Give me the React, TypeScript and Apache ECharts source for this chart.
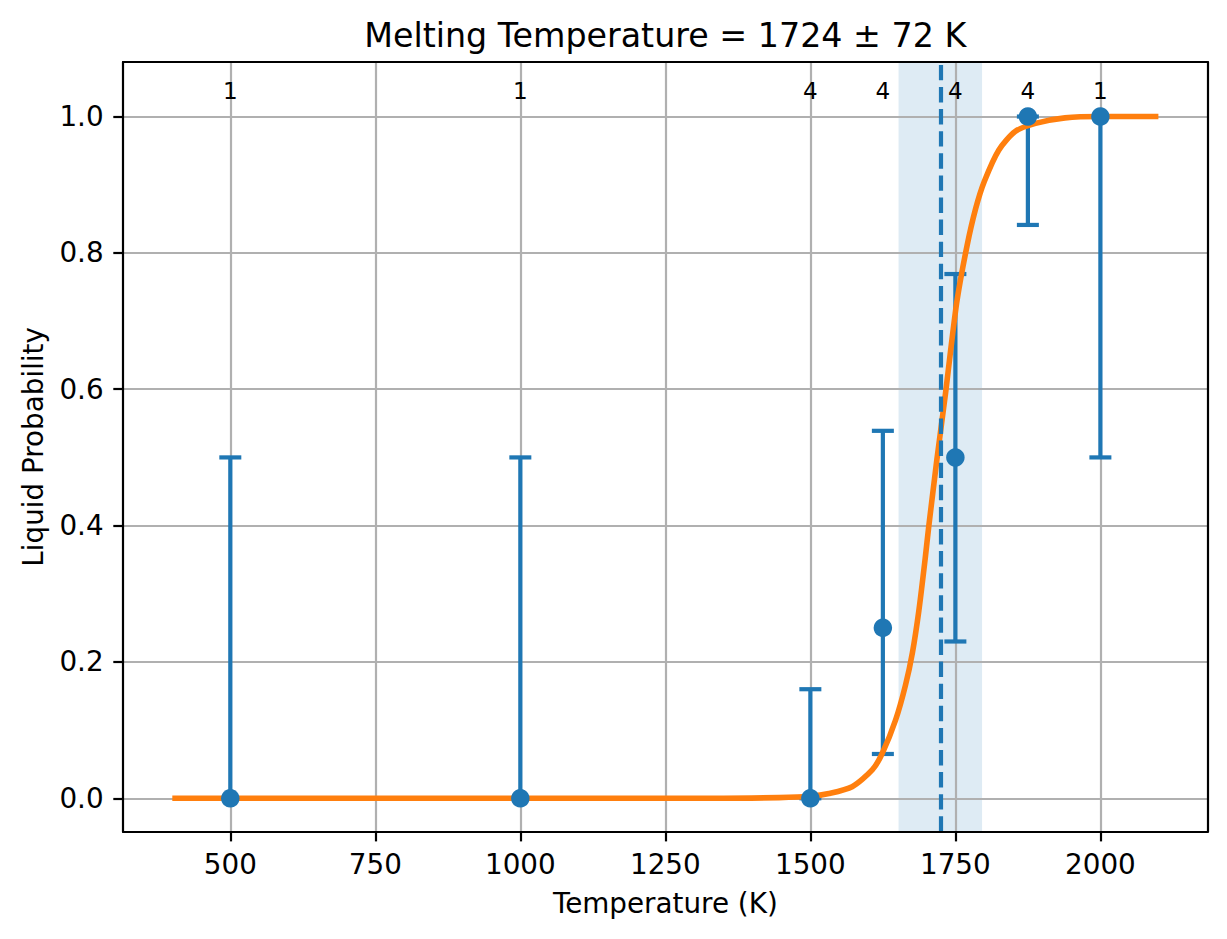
import React, { useEffect, useRef } from "react";
import * as echarts from "echarts";

// ---- data ----
const temps = [500, 1000, 1500, 1625, 1750, 1875, 2000];
const probs = [0, 0, 0, 0.25, 0.5, 1.0, 1.0];
const errLow = [0, 0, 0, 0.065, 0.23, 0.841, 0.5];
const errHigh = [0.5, 0.5, 0.16, 0.539, 0.769, 1.0, 1.0];
const counts = [1, 1, 4, 4, 4, 4, 1];

const curveT = [400, 700, 1000, 1200, 1350, 1446, 1500, 1532, 1572, 1607, 1624, 1647, 1664, 1676, 1687, 1698, 1704, 1718, 1733, 1742, 1753, 1770, 1785, 1800, 1825, 1853, 1888, 1939, 2000, 2050, 2100];
const curveP = [0, 0, 0, 0, 0, 0.001, 0.003, 0.007, 0.017, 0.042, 0.066, 0.115, 0.166, 0.214, 0.275, 0.352, 0.398, 0.496, 0.594, 0.658, 0.731, 0.81, 0.865, 0.905, 0.951, 0.978, 0.99, 0.998, 1.0, 1.0, 1.0];

const meltT = 1724;
const meltErr = 72;

const xTicks = [500, 750, 1000, 1250, 1500, 1750, 2000];
const yTicks = [0, 0.2, 0.4, 0.6, 0.8, 1.0];

const X_MIN = 315;
const X_MAX = 2185;
const Y_MIN = -0.049;
const Y_MAX = 1.08;
const COUNT_LABEL_LEVEL = 1.037;

const FONT = "'DejaVu Sans', sans-serif";
const BLUE = "#1f77b4";
const ORANGE = "#ff7f0e";

export default function App() {
  const ref = useRef<HTMLDivElement>(null);

  useEffect(() => {
    if (!ref.current) return;
    const chart = echarts.init(ref.current, null, { renderer: "svg" });

    const spine = { color: "#000", width: 2.2 };

    const option: any = {
      animation: false,
      backgroundColor: "#ffffff",
      textStyle: { fontFamily: FONT },
      title: {
        text: `Melting Temperature = ${meltT} ± ${meltErr} K`,
        left: 665.3,
        top: 18.5,
        padding: 0,
        textAlign: "center",
        textStyle: { fontFamily: FONT, fontSize: 33.3, fontWeight: "normal", color: "#000" },
      },
      grid: { left: 123, top: 62, right: 19.3, bottom: 107.3, containLabel: false, outerBoundsMode: "none" },
      xAxis: [
        {
          type: "value",
          position: "bottom",
          min: X_MIN,
          max: X_MAX,
          axisLine: { show: true, onZero: false, lineStyle: spine },
          axisTick: { show: true, customValues: xTicks, length: 9.7, lineStyle: spine },
          axisLabel: {
            customValues: xTicks,
            formatter: (v: number) => String(v),
            fontSize: 27.8,
            color: "#000",
            margin: 18.5,
            fontFamily: FONT,
          },
          splitLine: { show: false },
          name: "Temperature (K)",
          nameLocation: "middle",
          nameGap: 58,
          nameTextStyle: { fontSize: 27.8, color: "#000", fontFamily: FONT },
          z: 8,
        },
        {
          type: "value",
          position: "top",
          min: X_MIN,
          max: X_MAX,
          axisLine: { show: true, onZero: false, lineStyle: spine },
          axisTick: { show: false },
          axisLabel: { show: false },
          splitLine: { show: false },
          z: 8,
        },
      ],
      yAxis: [
        {
          type: "value",
          position: "left",
          min: Y_MIN,
          max: Y_MAX,
          axisLine: { show: true, onZero: false, lineStyle: spine },
          axisTick: { show: true, customValues: yTicks, length: 9.7, lineStyle: spine },
          axisLabel: {
            customValues: yTicks,
            formatter: (v: number) => v.toFixed(1),
            fontSize: 27.8,
            color: "#000",
            margin: 19.4,
            fontFamily: FONT,
          },
          splitLine: { show: false },
          name: "Liquid Probability",
          nameLocation: "middle",
          nameGap: 75.4,
          nameTextStyle: { fontSize: 27.8, color: "#000", fontFamily: FONT },
          z: 8,
        },
        {
          type: "value",
          position: "right",
          min: Y_MIN,
          max: Y_MAX,
          axisLine: { show: true, onZero: false, lineStyle: spine },
          axisTick: { show: false },
          axisLabel: { show: false },
          splitLine: { show: false },
          z: 8,
        },
      ],
      series: [
        {
          name: "band",
          type: "line",
          data: [],
          z: 1,
          silent: true,
          markArea: {
            silent: true,
            z: 1,
            itemStyle: { color: "rgba(31,119,180,0.15)" },
            label: { show: false },
            data: [[{ xAxis: meltT - meltErr }, { xAxis: meltT + meltErr }]],
          },
        },
        {
          name: "grid",
          type: "line",
          data: [],
          z: 2,
          silent: true,
          markLine: {
            silent: true,
            z: 2,
            symbol: ["none", "none"],
            label: { show: false },
            lineStyle: { color: "#b0b0b0", width: 2.2, type: "solid" },
            data: [
              ...xTicks.map((v) => ({ xAxis: v })),
              ...yTicks.map((v) => ({ yAxis: v })),
            ],
          },
        },
        {
          name: "errorbars",
          type: "custom",
          z: 3,
          silent: true,
          data: temps.map((t, i) => [t, errLow[i], errHigh[i]]),
          encode: { x: 0, y: [1, 2] },
          renderItem: (params: any, api: any) => {
            const x = api.value(0);
            const lo = api.coord([x, api.value(1)]);
            const hi = api.coord([x, api.value(2)]);
            const style = { stroke: BLUE, lineWidth: 4.2, fill: "none" };
            const cap = 11;
            return {
              type: "group",
              children: [
                { type: "line", shape: { x1: lo[0], y1: lo[1], x2: hi[0], y2: hi[1] }, style },
                { type: "line", shape: { x1: lo[0] - cap, y1: lo[1], x2: lo[0] + cap, y2: lo[1] }, style },
                { type: "line", shape: { x1: hi[0] - cap, y1: hi[1], x2: hi[0] + cap, y2: hi[1] }, style },
              ],
            };
          },
        },
        {
          name: "fit",
          type: "line",
          z: 4,
          silent: true,
          showSymbol: false,
          symbol: "none",
          smooth: 0.25,
          data: curveT.map((t, i) => [t, curveP[i]]),
          lineStyle: { color: ORANGE, width: 5.6, cap: "butt", join: "round" },
        },
        {
          name: "melt",
          type: "line",
          data: [],
          z: 5,
          silent: true,
          markLine: {
            silent: true,
            z: 5,
            symbol: ["none", "none"],
            label: { show: false },
            lineStyle: { color: BLUE, width: 4.2, type: [15.4, 6.7] },
            data: [{ xAxis: meltT }],
          },
        },
        {
          name: "points",
          type: "scatter",
          z: 6,
          silent: true,
          symbol: "circle",
          symbolSize: 18.5,
          itemStyle: { color: BLUE, opacity: 1 },
          data: temps.map((t, i) => [t, probs[i]]),
        },
        {
          name: "counts",
          type: "custom",
          z: 7,
          silent: true,
          data: temps.map((t, i) => [t, COUNT_LABEL_LEVEL, counts[i]]),
          renderItem: (params: any, api: any) => {
            const p = api.coord([api.value(0), api.value(1)]);
            return {
              type: "text",
              x: p[0],
              y: p[1],
              style: {
                text: String(api.value(2)),
                fontSize: 23.1,
                fontFamily: FONT,
                fill: "#000",
                align: "center",
                verticalAlign: "middle",
              },
            };
          },
        },
      ],
    };

    chart.setOption(option);
    return () => chart.dispose();
  }, []);

  return (
    <div
      ref={ref}
      style={{ position: "absolute", left: 0, top: 0, width: 1227, height: 939, background: "#fff" }}
    />
  );
}
